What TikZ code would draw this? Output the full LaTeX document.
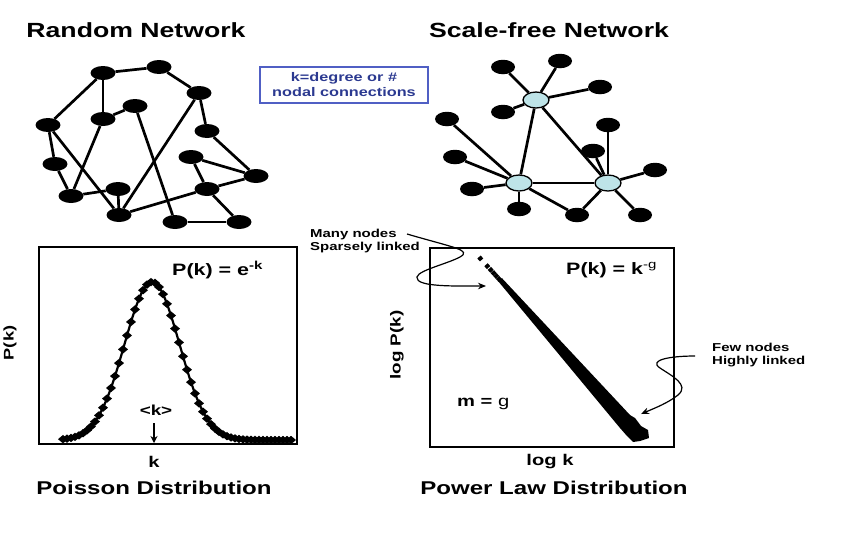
\documentclass[tikz,border=0pt]{standalone}
\usepackage{fontspec}
\setmainfont{Liberation Sans}
\newfontfamily\wf[FakeStretch=1.3]{Liberation Sans}
\usetikzlibrary{arrows.meta,shapes.geometric}
\definecolor{hubc}{RGB}{190,228,232}
\definecolor{boxtext}{RGB}{43,57,144}
\definecolor{boxline}{RGB}{80,95,196}
\tikzset{
  lbl/.style={font=\wf\bfseries\fontsize{#1}{#1}\selectfont, inner sep=0pt},
  rn/.style={ellipse, fill=black, minimum width=25pt, minimum height=14pt, inner sep=0pt},
  hub/.style={ellipse, fill=hubc, draw=black, line width=1.3pt, minimum width=26pt, minimum height=16pt, inner sep=0pt},
  edge/.style={line width=2.7pt},
  frame/.style={line width=2.5pt},
  callout/.style={line width=1.2pt, -{Stealth[length=8pt,width=6.5pt]}},
}
\begin{document}
\begin{tikzpicture}[x=1pt,y=-1pt]
\useasboundingbox (0,0) rectangle (850,536);
% titles
\node[lbl=20.5] (t1) at (136,30) {Random Network};
\node[lbl=20.5] (t2) at (549,30) {Scale-free Network};
% legend box
\node[draw=boxline, line width=1.8pt, minimum width=168pt, minimum height=36pt, inner sep=0pt,
      align=center, font=\wf\bfseries\fontsize{12.5}{15}\selectfont, text=boxtext] (key) at (344,85)
      {k=degree or \#\\nodal connections};
% random network
\foreach \n/\x/\y in {A/103/73, B/159/67, C/199/93, D/48/125, E/103/119, F/135/106,
  G/207/131, H/55/164, I/191/157, J/256/176, K/71/196, L/118/189, M/207/189,
  N/119/215, O/175/222, P/239/222}
  \node[rn] (\n) at (\x,\y) {};
\foreach \a/\b in {A/B, B/C, A/D, A/E, E/F, E/K, D/H, D/N, H/K, K/L, L/N, F/O, C/N,
  C/G, G/J, I/J, I/M, M/N, M/P, O/P, M/J}
  \draw[edge] (\a) -- (\b);
% scale-free network
\node[hub] (h1) at (536,100) {};
\node[hub] (h2) at (519,183) {};
\node[hub] (h3) at (608,183) {};
\foreach \n/\x/\y in {sa/503/67, sb/560/61, sc/600/87, sd/503/112, se/447/119,
  sf/455/157, sg/472/189, sh/519/209, si/577/215, sj/593/151, sk/608/125,
  sl/655/170, sm/640/215}
  \node[rn, minimum width=24pt, minimum height=14.5pt] (\n) at (\x,\y) {};
\foreach \a/\b in {sa/h1, sb/h1, sc/h1, sd/h1, h1/h2, h1/h3, h2/h3, se/h2, sf/h2,
  sg/h2, sh/h2, h2/si, h3/si, h3/sj, h3/sk, h3/sl, h3/sm}
  \draw[edge] (\a) -- (\b);
% Poisson plot
\draw[frame] (39,247) rectangle (297,444);
\draw[line width=2.2pt]
  plot[domain=63:293, samples=80] (\x, {440 - 158*exp(-0.5*((\x-152)/27.5)^2)});
\foreach \x in {63,67,...,293} {
  \pgfmathsetmacro{\yy}{440 - 158*exp(-0.5*((\x-152)/27.5)^2)}
  \fill[black] (\x-5,\yy) -- (\x,\yy-4.2) -- (\x+5,\yy) -- (\x,\yy+4.2) -- cycle;
}
\node[lbl=16.5, anchor=west] (pe) at (172,270) {P(k) = e\textsuperscript{-k}};
\node[lbl=14.5] (ka) at (156,410) {<k>};
\coordinate (kt) at (154,423);
\coordinate (kb) at (154,443);
\draw[line width=2.2pt, -{Stealth[length=7pt,width=7pt]}] (kt) -- (kb);
\node[lbl=15.5] (kx) at (154,462) {k};
\node[lbl=14, rotate=90] (py) at (10,343) {P(k)};
\node[lbl=18.5] (pd) at (154,488) {Poisson Distribution};
% power law plot
\draw[frame] (430,248) rectangle (674,447);
\foreach \x/\y in {479/257, 486/264.7, 489.4/268.4, 492.3/271.6, 495/274.6, 497.7/277.6}
  \draw[line width=4.5pt] (\x,\y) -- ++(2.6,2.9);
\fill[black] (502,278.2) -- (630,415) -- (635,418) -- (641,426) -- (648,430) -- (649,438)
  -- (640,441) -- (633,442) -- (627,436) -- (620,428) -- (498.5,281.6) -- cycle;
\node[lbl=16.5, anchor=west] (pl) at (566,270) {P(k) = k\textsuperscript{\mdseries -g}};
\node[lbl=15.5, anchor=west] (mg) at (457,404) {m = \mdseries g};
\node[lbl=15.5] (lk) at (550,462) {log k};
\node[lbl=14.5, rotate=90] (lpy) at (397,345) {log P(k)};
\node[lbl=18.5] (pld) at (554,488) {Power Law Distribution};
% callouts
\node[lbl=11.5, anchor=west, align=left] (many) at (310,241) {Many nodes\\[1pt]Sparsely linked};
\node[lbl=11.5, anchor=west, align=left] (few) at (712,355) {Few nodes\\[1pt]Highly linked};
\coordinate (m0) at (407,234);
\coordinate (m1) at (486,286);
\draw[callout] (m0) .. controls (455,248) and (472,250) .. (460,257)
  .. controls (445,265) and (410,272) .. (418,280)
  .. controls (423,287) and (460,286) .. (m1);
\coordinate (f0) at (695,356);
\coordinate (f1) at (641,414);
\draw[callout] (f0) .. controls (670,356) and (648,360) .. (660,368)
  .. controls (672,376) and (690,385) .. (678,395)
  .. controls (668,403) and (655,408) .. (f1);
\end{tikzpicture}
\end{document}
